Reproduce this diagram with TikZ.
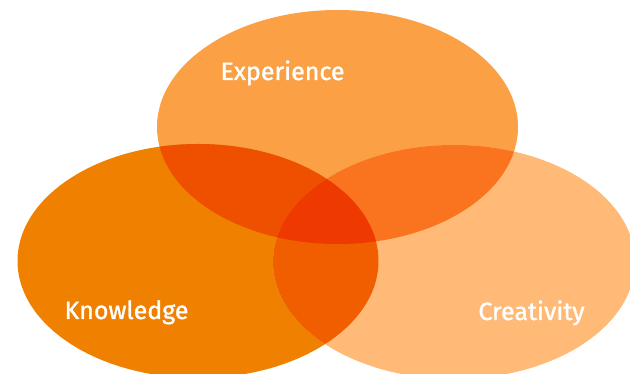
\documentclass[tikz,border=0pt]{standalone}
\usepackage{fontspec}
\setmainfont{Fira Sans}
\newfontfamily\lblfont{Fira Sans}[FakeBold=1.2]
\definecolor{cTop}{HTML}{FBA044}
\definecolor{cLeft}{HTML}{F08000}
\definecolor{cRight}{HTML}{FFBA78}
\definecolor{cTL}{HTML}{EE5000}
\definecolor{cTR}{HTML}{FA7420}
\definecolor{cLR}{HTML}{F05E00}
\definecolor{cAll}{HTML}{EE3A00}
\begin{document}
\begin{tikzpicture}[x=1pt,y=1pt,
  lbl/.style={text=white,font=\lblfont\fontsize{25}{28}\selectfont,anchor=base,inner sep=0pt}]
\useasboundingbox (0,0) rectangle (630,374);
\def\Etop{(337.5,247) ellipse [x radius=180.5,y radius=117]}
\def\Eleft{(198,113) ellipse [x radius=180.5,y radius=117]}
\def\Eright{(454,112) ellipse [x radius=181,y radius=117]}
\begin{scope}
\clip (0,0) rectangle (630,374);
\fill[cTop] \Etop;
\fill[cLeft] \Eleft;
\fill[cRight] \Eright;
\begin{scope}\clip \Etop; \fill[cTL] \Eleft; \fill[cTR] \Eright; \end{scope}
\begin{scope}\clip \Eleft; \fill[cLR] \Eright; \end{scope}
\begin{scope}\clip \Etop; \clip \Eleft; \fill[cAll] \Eright; \end{scope}
\end{scope}
\node[lbl] (exp) at (282.5,294) {Experience};
\node[lbl] (kno) at (126.5,55) {Knowledge};
\node[lbl] (cre) at (531.5,54) {Creativity};
\end{tikzpicture}
\end{document}
